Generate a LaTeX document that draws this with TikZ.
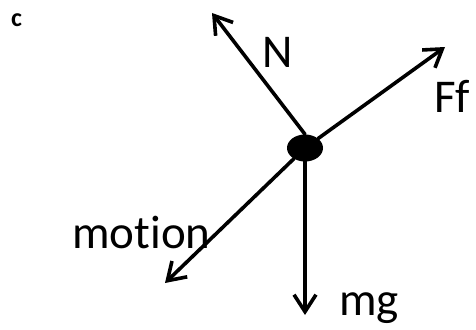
\documentclass[tikz,border=0pt]{standalone}
\usepackage{fontspec}
\setmainfont{Carlito}[Ligatures={NoCommon}]
\usetikzlibrary{arrows.meta,shapes.geometric}

\begin{document}
\begin{tikzpicture}[x=1pt,y=-1pt,line cap=round,line join=round,
    force/.style={line width=3.6pt,-{Straight Barb[length=17pt,width=22pt]}},
    lbl/.style={anchor=base west,inner sep=0pt,font=\fontsize{47}{56}\selectfont}]
  \useasboundingbox (0,0) rectangle (476,329);
  \node[ellipse,fill,minimum width=36pt,minimum height=27pt,inner sep=0pt] (dot) at (305,148) {};
  \coordinate (Ntip) at (212,13);
  \coordinate (Fftip) at (445,47);
  \coordinate (mottip) at (165,283);
  \coordinate (mgtip) at (305,315);
  \draw[force] (dot.north) -- (Ntip);
  \draw[force] (dot) -- (Fftip);
  \draw[force] (dot) -- (mottip);
  \draw[force] (dot.south) -- (mgtip);
  \node[lbl] (N) at (262,67) {N};
  \node[lbl] (Ff) at (434,112) {Ff};
  \node[lbl] (motion) at (72,248) {motion};
  \node[lbl] (mg) at (339,315) {mg};
  \node[anchor=base west,inner sep=0pt,font=\fontsize{26}{30}\selectfont\bfseries] (c) at (11,27) {c};
\end{tikzpicture}
\end{document}
